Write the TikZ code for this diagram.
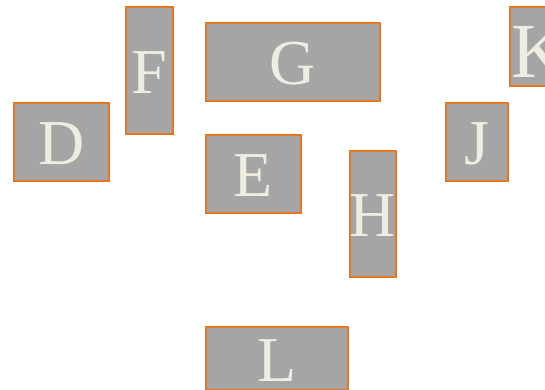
\documentclass[tikz,border=0pt]{standalone}
\usepackage{fontspec}
\setmainfont{Liberation Serif}
\definecolor{boxfill}{HTML}{A5A5A5}
\definecolor{boxline}{HTML}{E8761E}
\definecolor{boxtext}{HTML}{EFEDE2}
\tikzset{
  letterbox/.style={draw=boxline, fill=boxfill, line width=2pt, rectangle,
    inner sep=0pt, outer sep=0pt, text=boxtext,
    font=\fontsize{64}{64}\selectfont, text height=46pt, text depth=0pt},
}
\begin{document}
\begin{tikzpicture}[x=1pt,y=1pt]
\useasboundingbox (0,0) rectangle (545,390);
\clip (0,0) rectangle (545,390);
\fill[white] (0,0) rectangle (545,390);
\node[letterbox, minimum width=95pt, minimum height=78pt] (D) at (61.5,248) {D};
\node[letterbox, minimum width=47pt, minimum height=127pt] (F) at (149.5,319.5) {F};
\node[letterbox, minimum width=174pt, minimum height=78pt] (G) at (293,328) {G};
\node[letterbox, minimum width=95pt, minimum height=78pt] (E) at (253.5,216) {E};
\node[letterbox, minimum width=46pt, minimum height=126pt] (H) at (373,176) {H};
\node[letterbox, minimum width=62pt, minimum height=78pt] (J) at (477,248) {J};
\node[letterbox, minimum width=60pt, minimum height=79pt, font=\fontsize{78}{78}\selectfont, text height=62pt] (K) at (540,343.5) {K};
\node[letterbox, minimum width=142pt, minimum height=63pt] (L) at (277,31.5) {L};
\end{tikzpicture}
\end{document}
